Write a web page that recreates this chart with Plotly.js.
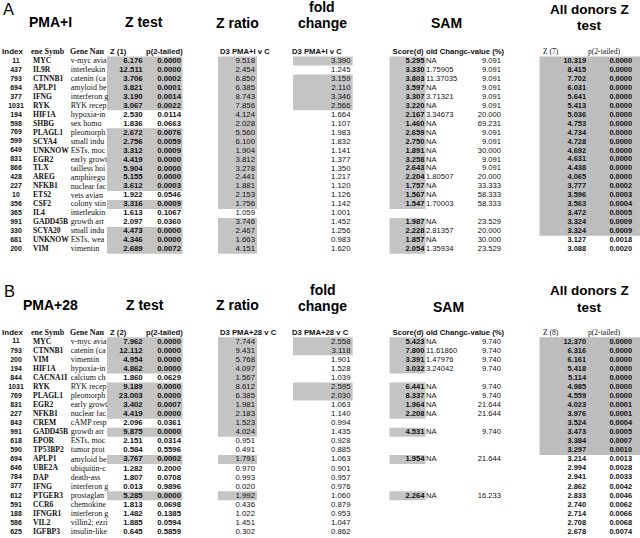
<!DOCTYPE html>
<html><head><meta charset="utf-8">
<script src="https://cdn.plot.ly/plotly-3.0.1.min.js"></script>
<style>body{margin:0;background:#fff}#chart{width:640px;height:538px}</style>
</head><body><div id="chart"></div>
<script>
// ---------------- Panel A : PMA+I ----------------
const aIndex = [11,437,793,694,377,1031,194,598,769,599,649,831,866,428,227,10,356,365,991,330,681,200];
const aSymbol = ["MYC","IL9R","CTNNB1","APLP1","IFNG","RYK","HIF1A","SHBG","PLAGL1","SCYA4","UNKNOW","EGR2","TLX","AREG","NFKB1","ETS2","CSF2","IL4","GADD45B","SCYA20","UNKNOW","VIM"];
const aName = ["v-myc avia","interleukin","catenin (ca","amyloid be","interferon g","RYK recep","hypoxia-in","sex homo","pleomorph","small indu","ESTs, moc","early growt","tailless hoi","amphiregu","nuclear fac","vets avian","colony stin","interleukin","growth arr","small indu","ESTs, wea","vimentin"];
const aZ = [6.176,12.511,3.706,3.821,3.190,3.067,2.530,1.836,2.672,2.756,3.312,4.419,5.904,5.155,3.612,1.922,3.316,1.613,2.097,4.473,4.346,2.689];
const aP = [0.0000,0.0000,0.0002,0.0001,0.0014,0.0022,0.0114,0.0663,0.0076,0.0059,0.0009,0.0000,0.0000,0.0000,0.0003,0.0546,0.0009,0.1067,0.0360,0.0000,0.0000,0.0072];
const aZratio = [9.518,2.454,6.850,6.385,8.743,7.856,4.124,2.028,5.560,6.100,1.904,3.812,3.278,2.441,1.881,2.153,1.756,1.059,3.746,2.467,1.663,4.151];
const aFold = [3.390,1.245,3.159,2.110,3.346,2.566,1.664,1.107,1.983,1.832,1.141,1.377,1.350,1.217,1.120,1.126,1.142,1.001,1.452,1.256,0.983,1.620];
const aSamScore = [5.295,3.330,3.803,3.597,3.307,3.220,2.167,1.460,2.659,2.750,1.891,3.258,2.643,2.204,1.757,1.567,1.547,null,1.987,2.228,1.857,2.054];
const aSamFold = [null,1.75905,11.37035,null,3.71321,null,3.34673,null,null,null,null,null,null,1.80507,null,null,1.70003,undefined,null,2.81357,null,1.35934];
const aSamQ = [9.091,9.091,9.091,9.091,9.091,9.091,20.000,69.231,9.091,9.091,30.000,9.091,9.091,20.000,33.333,58.333,58.333,null,23.529,20.000,30.000,23.529];
const aAllZ = [10.319,8.415,7.702,6.031,5.641,5.413,5.036,4.753,4.734,4.728,4.692,4.631,4.438,4.065,3.777,3.596,3.563,3.472,3.324,3.324,3.127,3.088];
const aAllP = [0.0000,0.0000,0.0000,0.0000,0.0000,0.0000,0.0000,0.0000,0.0000,0.0000,0.0000,0.0000,0.0000,0.0000,0.0002,0.0003,0.0004,0.0005,0.0009,0.0009,0.0018,0.0020];

// ---------------- Panel B : PMA+28 ----------------
const bIndex = [11,793,200,194,844,1031,769,831,227,843,991,618,590,694,646,784,377,612,591,188,586,625];
const bSymbol = ["MYC","CTNNB1","VIM","HIF1A","CACNA1I","RYK","PLAGL1","EGR2","NFKB1","CREM","GADD45B","EPOR","TP53BP2","APLP1","UBE2A","DAP","IFNG","PTGER3","CCR6","IFNGR1","VIL2","IGFBP3"];
const bName = ["v-myc avia","catenin (ca","vimentin","hypoxia-in","calcium ch","RYK recep","pleomorph","early growt","nuclear fac","cAMP resp","growth arr","ESTs, moc","tumor prot","amyloid be","ubiquitin-c","death-ass","interferon g","prostaglan","chemokine","interferon g","villin2; ezri","insulin-like"];
const bZ = [7.962,12.112,4.954,4.862,1.860,9.189,23.003,3.402,4.419,2.096,9.875,2.151,0.584,3.767,1.282,1.807,0.013,5.285,1.813,1.482,1.885,0.645];
const bP = [0.0000,0.0000,0.0000,0.0000,0.0629,0.0000,0.0000,0.0007,0.0000,0.0361,0.0000,0.0314,0.5596,0.0002,0.2000,0.0708,0.9896,0.0000,0.0698,0.1385,0.0594,0.5859];
const bZratio = [7.744,9.431,5.768,4.097,1.567,8.612,6.385,1.981,2.183,1.523,4.024,0.951,0.491,1.791,0.970,0.993,0.020,1.992,0.436,1.022,1.451,0.302];
const bFold = [2.558,3.118,1.901,1.528,1.039,2.595,2.030,1.063,1.140,0.994,1.435,0.928,0.885,1.063,0.901,0.957,0.976,1.060,0.879,0.953,1.047,0.862];
const bSamScore = [5.423,7.800,3.391,3.032,null,6.441,8.337,1.964,2.208,null,4.531,null,null,1.954,null,null,null,2.264,null,null,null,null];
const bSamFold = [null,11.61860,1.47976,3.24042,undefined,null,null,null,null,undefined,null,undefined,undefined,null,undefined,undefined,undefined,null,undefined,undefined,undefined,undefined];
const bSamQ = [9.740,9.740,9.740,9.740,null,9.740,9.740,21.644,21.644,null,9.740,null,null,21.644,null,null,null,16.233,null,null,null,null];
const bAllZ = [12.370,6.316,6.161,5.418,5.114,4.985,4.559,4.023,3.976,3.524,3.473,3.384,3.297,3.214,2.994,2.941,2.862,2.833,2.740,2.714,2.708,2.678];
const bAllP = [0.0000,0.0000,0.0000,0.0000,0.0000,0.0000,0.0000,0.0001,0.0001,0.0004,0.0005,0.0007,0.0010,0.0013,0.0028,0.0033,0.0042,0.0046,0.0062,0.0066,0.0068,0.0074];

// ---------------- styling / layout helpers ----------------
const SANS = 'Liberation Sans, Arial, sans-serif';
const SERIF = 'Liberation Serif, Times New Roman, serif';
const INK = '#111111';
const SHADE = '#c4c4c4';
const SHADE2 = '#bdbdbd';
const COL = {index:16, sym:33, name:70.7, z:142.7, p:181, zr:255, fc:350.5, ss:424.5, sf:426, sq:501, az:586, ap:632};

const fmt = (d) => (v) => (v === null || v === undefined) ? '' : v.toFixed(d);
const fmtSamFold = (v) => v === undefined ? '' : (v === null ? 'NA' : v.toFixed(5));

function col(x, texts, yax, pos, font) {
  return {type:'scatter', mode:'text', x: texts.map(() => x), y: texts.map((_, i) => i),
    text: texts, textposition: pos, textfont: Object.assign({color: INK}, font),
    xaxis: 'x', yaxis: yax, hoverinfo: 'skip', showlegend: false, cliponaxis: false};
}
const BS = (s) => ({family: SANS, size: s, weight: 'bold'});
const RS = (s) => ({family: SANS, size: s});
const BSER = (s) => ({family: SERIF, size: s, weight: 'bold'});
const RSER = (s) => ({family: SERIF, size: s});

function panelTraces(yax, d) {
  const L = 'middle left', R = 'middle right', C = 'middle center';
  return [
    col(COL.index, d.index.map(String), yax, C, BS(7)),
    col(COL.sym, d.symbol, yax, R, BSER(7.6)),
    col(COL.name, d.name, yax, R, RSER(8)),
    col(COL.z, d.z.map(fmt(3)), yax, L, BS(7.8)),
    col(COL.p, d.p.map(fmt(4)), yax, L, BS(7.8)),
    col(COL.zr, d.zratio.map(fmt(3)), yax, L, RS(7.8)),
    col(COL.fc, d.fold.map(fmt(3)), yax, L, RS(7.8)),
    col(COL.ss, d.samScore.map(fmt(3)), yax, L, BS(7.6)),
    col(COL.sf, d.samFold.map(fmtSamFold), yax, R, RS(7.6)),
    col(COL.sq, d.samQ.map(fmt(3)), yax, L, RS(7.6)),
    col(COL.az, d.allZ.map(fmt(3)), yax, L, BS(7.4)),
    col(COL.ap, d.allP.map(fmt(4)), yax, L, BS(7.4)),
    // header row (row -1)
    {type:'scatter', mode:'text', xaxis:'x', yaxis:yax, hoverinfo:'skip', showlegend:false, cliponaxis:false,
      x:[12.5], y:[-1], text:['Index'], textposition:C, textfont:Object.assign({color:INK}, BS(8))},
    {type:'scatter', mode:'text', xaxis:'x', yaxis:yax, hoverinfo:'skip', showlegend:false, cliponaxis:false,
      x:[31, 70], y:[-1, -1], text:['ene Symb', 'Gene Nan'], textposition:R, textfont:Object.assign({color:INK}, BSER(8))},
    {type:'scatter', mode:'text', xaxis:'x', yaxis:yax, hoverinfo:'skip', showlegend:false, cliponaxis:false,
      x:[110, 146, 220, 292, 392.5, 426], y:[-1,-1,-1,-1,-1,-1],
      text:[d.zHead, 'p(2-tailed)', d.cond, d.cond, 'Score(d)', 'old Changc-value (%)'],
      textposition:R, textfont:Object.assign({color:INK}, BS(7.7))},
    {type:'scatter', mode:'text', xaxis:'x', yaxis:yax, hoverinfo:'skip', showlegend:false, cliponaxis:false,
      x:[543, 588], y:[-1,-1], text:[d.allHead, 'p(2-tailed)'], textposition:R, textfont:Object.assign({color:INK}, RSER(7.6))}
  ];
}

function runs(flags) {
  const out = []; let s = null;
  flags.forEach((f, i) => {
    if (f && s === null) s = i;
    if (!f && s !== null) { out.push([s, i - 1]); s = null; }
  });
  if (s !== null) out.push([s, flags.length - 1]);
  return out;
}
function shadeShapes(yref, flags, x0, x1, color) {
  return runs(flags).map(([a, b]) => ({type:'rect', xref:'x', yref: yref, x0: x0, x1: x1,
    y0: a - 0.5, y1: b + 0.5, fillcolor: color, line: {width: 0}, layer: 'below'}));
}
function panelShapes(yref, d) {
  return [].concat(
    shadeShapes(yref, d.p.map(v => v < 0.01), 107, 182.5, SHADE),
    shadeShapes(yref, d.zratio.map(v => v > 1.5), 218, 257, SHADE),
    shadeShapes(yref, d.fold.map(v => v > 2.0), 293, 352.7, SHADE),
    shadeShapes(yref, d.samScore.map(v => v !== null), 389.5, 425.5, SHADE),
    shadeShapes(yref, d.allP.map(v => v <= 0.001), 539.5, 640, SHADE2)
  );
}

const A = {index:aIndex, symbol:aSymbol, name:aName, z:aZ, p:aP, zratio:aZratio, fold:aFold,
  samScore:aSamScore, samFold:aSamFold, samQ:aSamQ, allZ:aAllZ, allP:aAllP,
  zHead:'Z (1)', cond:'D3 PMA+I v C', allHead:'Z (7)'};
const B = {index:bIndex, symbol:bSymbol, name:bName, z:bZ, p:bP, zratio:bZratio, fold:bFold,
  samScore:bSamScore, samFold:bSamFold, samQ:bSamQ, allZ:bAllZ, allP:bAllP,
  zHead:'Z (2)', cond:'D3 PMA+28 v C', allHead:'Z (8)'};

const H = 538, W = 640;
function title(text, px, py, size, bold) {
  return {text: text, xref:'paper', yref:'paper', x: px / W, y: 1 - py / H, xanchor:'center', yanchor:'middle',
    showarrow:false, borderpad:0, font:{family: SANS, size: size, color:'#000', weight: bold ? 'bold' : 'normal'}};
}
const annotations = [
  title('A', 8, 9, 16.5, false),
  title('PMA+I', 50, 22.5, 14, true),
  title('Z test', 143.5, 22.5, 14, true),
  title('Z ratio', 237, 23, 14, true),
  title('fold', 322, 6.5, 14, true),
  title('change', 322, 23, 14, true),
  title('SAM', 446, 23.5, 14, true),
  title('All donors Z', 589, 9, 13.5, true),
  title('test', 589.5, 25.5, 13.5, true),
  title('B', 9, 291, 16.5, false),
  title('PMA+28', 50, 304.5, 14, true),
  title('Z test', 145, 305, 14, true),
  title('Z ratio', 237, 305, 14, true),
  title('fold', 323, 289.5, 14, true),
  title('change', 322.5, 305.5, 14, true),
  title('SAM', 448, 306.5, 14, true),
  title('All donors Z', 589, 290.5, 13.5, true),
  title('test', 589.5, 307, 13.5, true)
];

const data = [].concat(panelTraces('y', A), panelTraces('y2', B));
const layout = {
  width: W, height: H, margin: {l:0, r:0, t:0, b:0},
  paper_bgcolor: '#fff', plot_bgcolor: '#fff', showlegend: false,
  xaxis: {range: [0, 640], visible: false, fixedrange: true},
  yaxis: {domain: [0.5, 1], range: [23.196, -6.80], visible: false, fixedrange: true},
  yaxis2: {domain: [0, 0.5], range: [21.66, -8.022], visible: false, fixedrange: true, anchor: 'x'},
  shapes: [].concat(panelShapes('y', A), panelShapes('y2', B)),
  annotations: annotations
};
Plotly.newPlot('chart', data, layout, {staticPlot: true, displayModeBar: false});
</script>
</body></html>
